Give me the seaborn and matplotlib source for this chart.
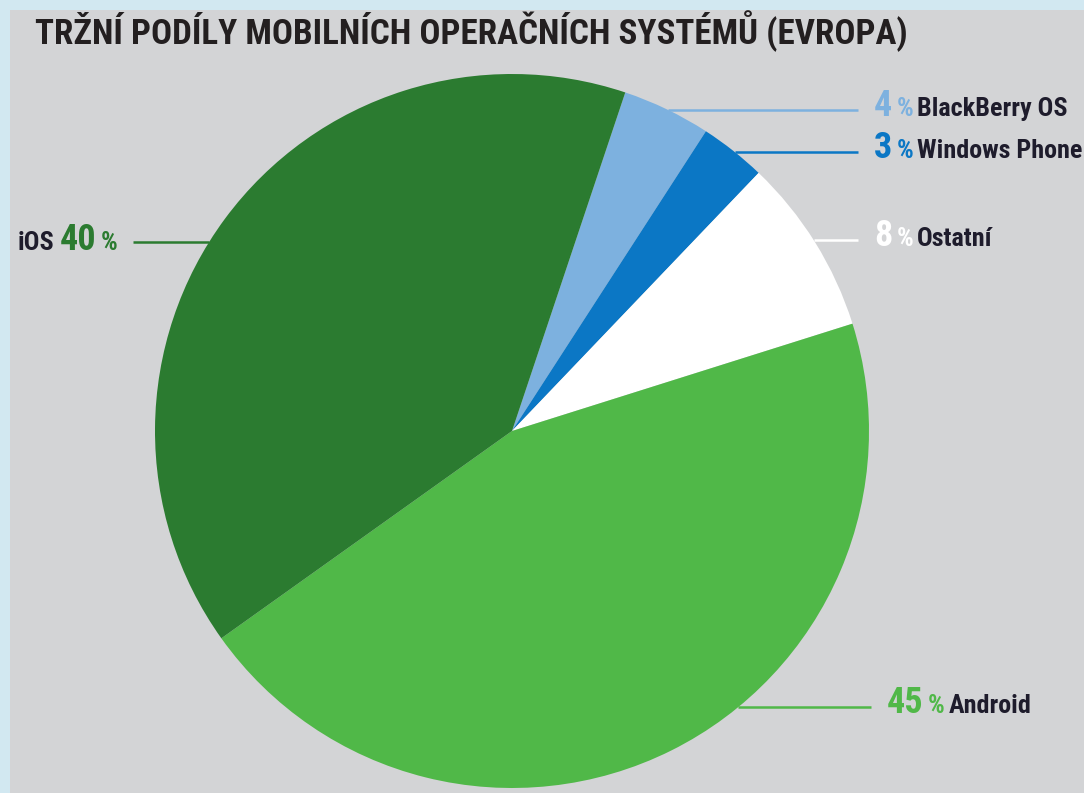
import matplotlib
matplotlib.use('Agg')
import matplotlib.pyplot as plt
from matplotlib.transforms import Affine2D
from matplotlib import font_manager as fm
import seaborn as sns
import numpy as np

# ---- data ----
labels = ['BlackBerry OS', 'Windows Phone', 'Ostatní', 'Android', 'iOS']
shares = [4, 3, 8, 45, 40]
colors = ['#7db1df', '#0b77c5', '#ffffff', '#50b848', '#2b7b30']
title = 'TRŽNÍ PODÍLY MOBILNÍCH OPERAČNÍCH SYSTÉMŮ (EVROPA)'

# ---- layout (pixels from top-left) ----
W, H = 1084, 793
R, CX, CY = 357, 512, 431
line_y = [110, 152, 240, 707, 242]
line_end_x = [858, 858, 858, 871, 133]
side = ['r', 'r', 'r', 'r', 'l']

sns.set_theme(style='white')
plt.rcParams['font.family'] = ['DejaVu Sans']

# pick a condensed bold font if one is installed
def wnum(w):
    return w if isinstance(w, int) else {'bold': 700, 'normal': 400}.get(w, 400)

prefs = ['Roboto Condensed', 'Liberation Sans Narrow', 'Open Sans Condensed',
         'Noto Sans Condensed', 'DejaVu Sans']
cands = []
for f in fm.fontManager.ttflist:
    cond = ('Narrow' in f.name or 'Condensed' in f.name or 'Cond' in f.fname
            or str(f.stretch) in ('condensed', 'semi-condensed', 'extra-condensed'))
    if cond and f.style == 'normal':
        rank = next((i for i, p in enumerate(prefs) if f.name.startswith(p)), 99)
        cands.append((rank, abs(wnum(f.weight) - 700), f.fname))
cands.sort()
if cands:
    FP = fm.FontProperties(fname=cands[0][2])
else:
    FP = fm.FontProperties(family='DejaVu Sans', weight='bold')

fig = plt.figure(figsize=(W / 100, H / 100), dpi=100)
fig.patch.set_facecolor('#d2e8f1')
panel = fig.add_axes([10 / W, 0, 1 - 10 / W, 1 - 10 / H])
panel.set_facecolor('#d3d4d6')
panel.set_xticks([]); panel.set_yticks([])
for s in panel.spines.values():
    s.set_visible(False)

ax = fig.add_axes([(CX - R) / W, (H - CY - R) / H, 2 * R / W, 2 * R / H])
ax.pie(shares, colors=colors, startangle=71.5, counterclock=False, radius=1,
       wedgeprops=dict(linewidth=0))
ax.set_xlim(-1, 1); ax.set_ylim(-1, 1)
ax.set_aspect('equal')
ax.axis('off')

pix = Affine2D().scale(1, -1).translate(0, H)  # pixel (from top) -> display
txt_dark = '#1e1c2c'

def fp(size):
    p = FP.copy()
    p.set_size(size)
    return p

fig.text(35, 44, title, transform=pix, fontproperties=fp(25.2),
         color='#231f20', va='baseline', ha='left')

fig.canvas.draw()
renderer = fig.canvas.get_renderer()

def width(s, size):
    t = fig.text(0, 0, s, fontproperties=fp(size))
    w = t.get_window_extent(renderer).width
    t.remove()
    return w

def chain(x0, y_base, parts):
    x = x0
    for s, size, col, gap in parts:
        fig.text(x, y_base, s, transform=pix, fontproperties=fp(size), color=col,
                 va='baseline', ha='left')
        x = x + width(s, size) + gap
    return x

NUM, PCT, NAME = 26, 19, 18.8
for lab, val, col, ly, lx, sd in zip(labels, shares, colors, line_y, line_end_x, side):
    yd = (CY - ly) / R
    xe = np.sqrt(max(0.0, 1 - yd ** 2))
    if sd == 'r':
        ax.plot([xe, (lx - CX) / R], [yd, yd], color=col, lw=1.8, clip_on=False,
                solid_capstyle='butt')
        chain(lx + 16, ly + 6, [(str(val), NUM, col, 4), ('%', PCT, col, 4),
                                (lab, NAME, txt_dark, 0)])
    else:
        ax.plot([-xe, (lx - CX) / R], [yd, yd], color=col, lw=1.8, clip_on=False,
                solid_capstyle='butt')
        parts = [(lab, NAME, txt_dark, 5), (str(val), NUM, col, 5), ('%', PCT, col, 0)]
        total = sum(width(s, size) + gap for s, size, c, gap in parts)
        chain(lx - 15 - total, ly + 8, parts)

fig.savefig('out.png', dpi=100, facecolor=fig.get_facecolor())
